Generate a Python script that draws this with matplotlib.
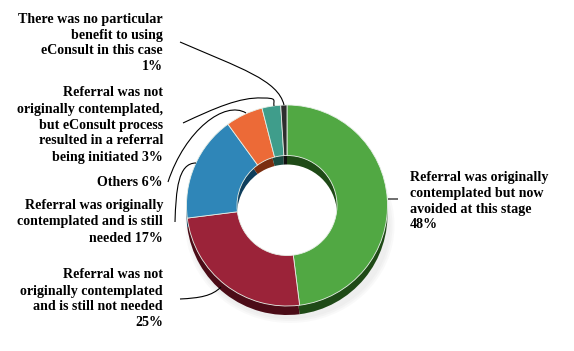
import matplotlib
matplotlib.use("Agg")
import matplotlib.pyplot as plt
from matplotlib.path import Path
from matplotlib.patches import PathPatch, Ellipse

categories = [
    "Referral was originally\ncontemplated but now\navoided at this stage",
    "Referral was not\noriginally contemplated\nand is still not needed",
    "Referral was originally\ncontemplated and is still\nneeded",
    "Others",
    "Referral was not\noriginally contemplated,\nbut eConsult process\nresulted in a referral\nbeing initiated",
    "There was no particular\nbenefit to using\neConsult in this case",
]
values = [48, 25, 17, 6, 3, 1]
pct_labels = ["48%", "25%", "17%", "6%", "3%", "1%"]
colors = ["#51A843", "#9B2339", "#2F86B8", "#EC6A37", "#3F9D8B", "#2E2E2E"]
rim_colors = ["#1F4A17", "#4B0C17", "#0F3E5C", "#7A2E10", "#1A4C42", "#111111"]

W, H = 574, 351
fig = plt.figure(figsize=(W / 100, H / 100), dpi=100)
ax = fig.add_axes([0, 0, 1, 1])

def Y(py):
    return H - py

cx, cy = 287, 205.5
R, r_in = 100.5, 50
depth = 9

# soft shadow below the ring
for a, s in [(0.04, 1.00), (0.04, 0.98), (0.04, 0.96)]:
    ax.add_patch(Ellipse((cx + 3, Y(cy + 20)), 2 * R * s + 8, 2 * R * s * 0.97,
                         facecolor="#777777", edgecolor="none", alpha=a, zorder=0))
# keep the hole white
ax.add_patch(Ellipse((cx, Y(cy + depth / 2)), 2 * r_in + 4, 2 * r_in + depth + 4,
                     facecolor="white", edgecolor="none", zorder=0.5))

# rim layer (3D depth)
rim, _ = ax.pie(values, colors=rim_colors, startangle=90, counterclock=False,
                center=(cx, Y(cy + depth)), radius=R,
                wedgeprops=dict(width=R - r_in, edgecolor="none"))
for w in rim:
    w.set_zorder(2)
# top layer
wedges, _ = ax.pie(values, colors=colors, startangle=90, counterclock=False,
                   center=(cx, Y(cy)), radius=R,
                   wedgeprops=dict(width=R - r_in, edgecolor="#e8f0e8", linewidth=0.6))
for w in wedges:
    w.set_zorder(3)

ax.set_xlim(0, W)
ax.set_ylim(0, H)
ax.set_aspect("auto")
ax.axis("off")

font = dict(family="Liberation Serif", weight="bold", fontsize=10.1, color="black",
            linespacing=1.3)

label_pos = [
    (410, 201, "left"),
    (163, 299, "right"),
    (163, 222, "right"),
    (163, 183, "right"),
    (163, 125, "right"),
    (163, 43, "right"),
]
label_text = [
    categories[0] + "\n" + pct_labels[0],
    categories[1] + "\n" + pct_labels[1],
    categories[2] + " " + pct_labels[2],
    categories[3] + " " + pct_labels[3],
    categories[4] + " " + pct_labels[4],
    categories[5] + "\n" + pct_labels[5],
]
for (x, y, ha), t in zip(label_pos, label_text):
    ax.text(x, Y(y), t, ha=ha, va="center", multialignment=ha, **font)

# leader lines (pixel coords, cubic beziers)
leaders = [
    [(388, 199), (391, 199), (395, 199), (398, 199)],
    [(180, 299), (200, 298), (212, 296), (221, 287)],
    [(175, 222), (176, 190), (178, 163), (196, 163)],
    [(168, 182), (185, 130), (225, 100), (246, 113)],
    [(183, 123), (215, 108), (240, 97), (262, 98), (278, 98), (273, 100), (274, 106)],
    [(180, 42), (240, 68), (278, 80), (284, 105)],
]
for pts in leaders:
    if len(pts) == 4:
        codes = [Path.MOVETO, Path.CURVE4, Path.CURVE4, Path.CURVE4]
    else:
        codes = [Path.MOVETO, Path.CURVE4, Path.CURVE4, Path.CURVE4,
                 Path.CURVE4, Path.CURVE4, Path.CURVE4]
    path = Path([(x, Y(y)) for x, y in pts], codes)
    ax.add_patch(PathPatch(path, facecolor="none", edgecolor="black", linewidth=0.8, zorder=5))

fig.savefig("out.png", dpi=100)
